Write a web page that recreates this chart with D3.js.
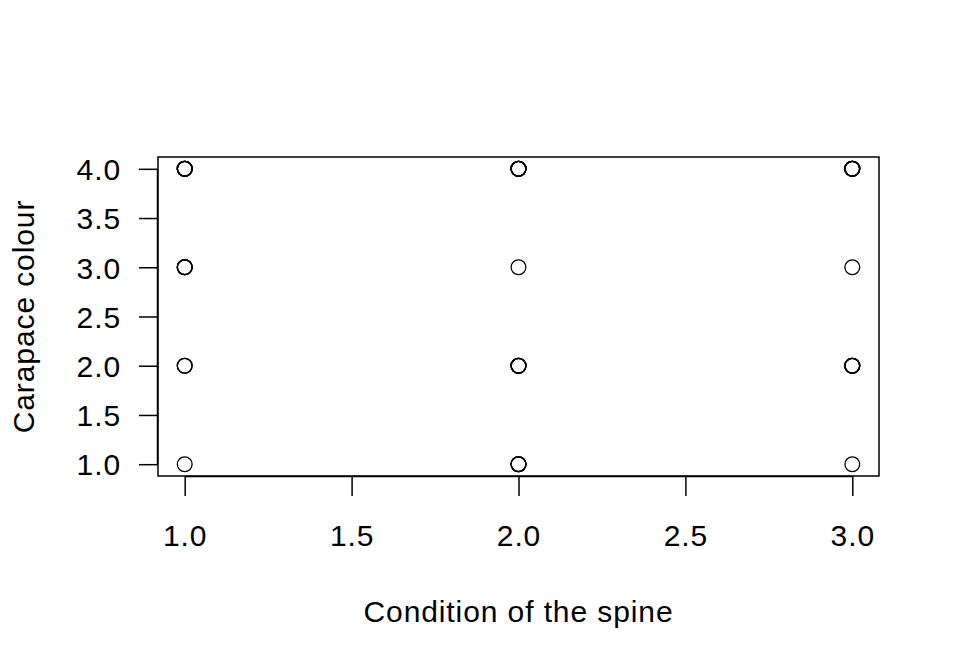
<!DOCTYPE html>
<html><head><meta charset="utf-8">
<script src="https://cdn.jsdelivr.net/npm/d3@7"></script>
<style>body{margin:0;background:#fff}svg{display:block}text{font-family:"Liberation Sans",Arial,sans-serif;fill:#000}</style>
</head><body>
<script>
// Condition of the spine (x), carapace colour (y), number of overplotted observations
const spine  = [1,1,1,1, 2,2,2,2, 3,3,3,3];
const colour = [4,3,2,1, 4,3,2,1, 4,3,2,1];
const count  = [5,4,2,1, 5,1,4,4, 5,1,4,1];
const xTicks = [1.0,1.5,2.0,2.5,3.0];
const yTicks = [1.0,1.5,2.0,2.5,3.0,3.5,4.0];
const xTitle = "Condition of the spine";
const yTitle = "Carapace colour";

const W=960,H=672;
const FS="30px", LS="0.9px";
const svg=d3.select("body").append("svg").attr("width",W).attr("height",H);
const L=158,R=879,T=157,B=476;
const xd=[1,3], yd=[1,4];
const px=(xd[1]-xd[0])*0.04, py=(yd[1]-yd[0])*0.04;
const x=d3.scaleLinear().domain([xd[0]-px,xd[1]+px]).range([L,R]);
const y=d3.scaleLinear().domain([yd[0]-py,yd[1]+py]).range([B,T]);

svg.append("rect").attr("x",L).attr("y",T).attr("width",R-L).attr("height",B-T)
  .attr("fill","none").attr("stroke","#000").attr("stroke-width",1.5);

const xAxis=d3.axisBottom(x).tickValues(xTicks).tickFormat(d3.format(".1f")).tickSize(20).tickSizeOuter(0).tickPadding(29);
const gx=svg.append("g").attr("transform",`translate(0,${B})`).call(xAxis);
gx.select(".domain").attr("d",`M${x(1)},0.5H${x(3)}`).attr("stroke-width",1.5);
gx.selectAll(".tick line").attr("stroke-width",1.5);
gx.selectAll("text").style("font-size",FS).style("letter-spacing",LS).attr("font-family",null);

const yAxis=d3.axisLeft(y).tickValues(yTicks).tickFormat(d3.format(".1f")).tickSize(19).tickSizeOuter(0).tickPadding(18);
const gy=svg.append("g").attr("transform",`translate(${L},0)`).call(yAxis);
gy.select(".domain").attr("d",`M-0.5,${y(1)}V${y(4)}`).attr("stroke-width",1.5);
gy.selectAll(".tick line").attr("stroke-width",1.5);
gy.selectAll("text").style("font-size",FS).style("letter-spacing",LS).attr("font-family",null).attr("dy","0.36em");

svg.append("text").attr("x",(L+R)/2).attr("y",622).attr("text-anchor","middle")
  .style("font-size",FS).style("letter-spacing",LS).text(xTitle);
svg.append("text").attr("transform",`translate(34,${(T+B)/2}) rotate(-90)`).attr("text-anchor","middle")
  .style("font-size",FS).style("letter-spacing",LS).text(yTitle);

const pts=[];
spine.forEach((s,i)=>{for(let k=0;k<count[i];k++)pts.push({s,c:colour[i]});});
svg.append("g").selectAll("circle").data(pts).join("circle")
  .attr("cx",d=>x(d.s)).attr("cy",d=>y(d.c)).attr("r",7.4)
  .attr("fill","none").attr("stroke","#000").attr("stroke-width",1.3);
</script>
</body></html>
